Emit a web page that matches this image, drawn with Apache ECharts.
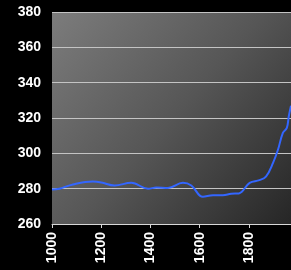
<!DOCTYPE html>
<html>
<head>
<meta charset="utf-8">
<script src="https://cdn.jsdelivr.net/npm/echarts@6/dist/echarts.min.js"></script>
<style>
  html, body { margin: 0; padding: 0; background: #000; }
  #chart { width: 291px; height: 270px; }
</style>
</head>
<body>
<div id="chart"></div>
<script>
const years = [1000, 1030, 1085, 1166, 1200, 1254, 1322, 1390, 1424, 1471, 1532, 1566, 1613, 1654, 1694, 1728, 1759, 1803, 1843, 1870, 1898, 1918, 1938, 1954, 1962, 1971];
const co2 = [279.5, 280, 282.4, 284, 283.5, 281.8, 283.3, 280, 280.6, 280.4, 283.3, 281.8, 275.4, 276.3, 276.3, 277.1, 277.3, 283.3, 284.8, 287, 294.6, 302, 311.6, 314.4, 321, 327];
const yTicks = [260, 280, 300, 320, 340, 360, 380];

const chart = echarts.init(document.getElementById('chart'));

const labelFont = {
  color: '#ffffff',
  fontFamily: 'Liberation Sans, Arial, sans-serif',
  fontWeight: 'bold',
  fontSize: 14
};

chart.setOption({
  backgroundColor: '#000000',
  animation: false,
  grid: {
    left: 52,
    right: 0,
    top: 12,
    bottom: 46,
    show: true,
    borderWidth: 0,
    backgroundColor: {
      type: 'linear', x: 0, y: 0, x2: 1, y2: 1,
      colorStops: [
        { offset: 0, color: '#7c7c7c' },
        { offset: 0.5, color: '#565656' },
        { offset: 1, color: '#262626' }
      ]
    }
  },
  xAxis: {
    type: 'value',
    min: 1000,
    max: 1971,
    interval: 200,
    axisLine: { show: true, lineStyle: { color: '#d8d8d8', width: 1 } },
    axisTick: { show: true, length: 4, lineStyle: { color: '#d8d8d8' } },
    splitLine: { show: false },
    axisLabel: Object.assign({}, labelFont, {
      rotate: 90,
      margin: 8,
      showMaxLabel: false,
      formatter: v => (v % 200 === 0 ? String(v) : '')
    })
  },
  yAxis: {
    type: 'value',
    min: yTicks[0],
    max: yTicks[yTicks.length - 1],
    interval: 20,
    axisLine: { show: false },
    axisTick: { show: false },
    splitLine: { show: true, lineStyle: { color: '#c4c4c4', width: 1 } },
    axisLabel: Object.assign({}, labelFont, { margin: 11 })
  },
  series: [
    {
      type: 'line',
      data: years.map((y, i) => [y, co2[i]]),
      smooth: 0.4,
      showSymbol: false,
      lineStyle: { color: '#3366ff', width: 2 },
      clip: true
    }
  ]
});
</script>
</body>
</html>
